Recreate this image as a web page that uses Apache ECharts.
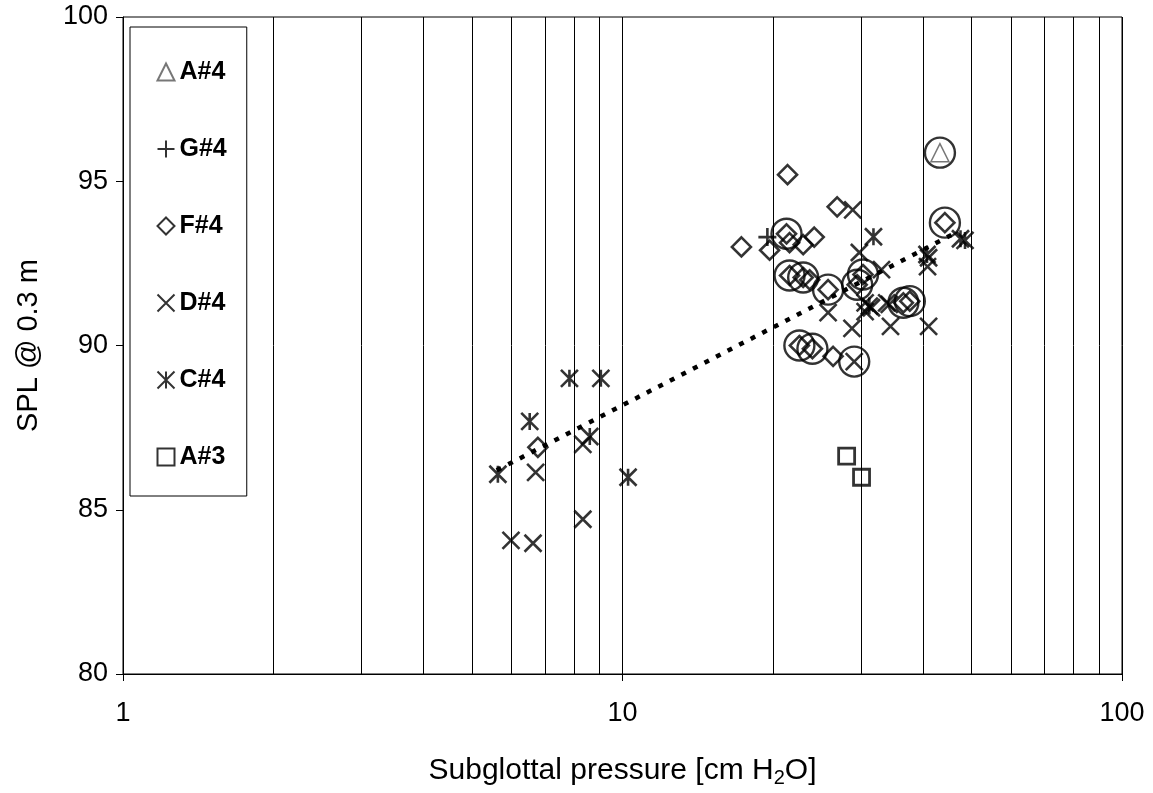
<!DOCTYPE html>
<html>
<head>
<meta charset="utf-8">
<script src="https://cdn.jsdelivr.net/npm/echarts@6/dist/echarts.min.js"></script>
<style>html,body{margin:0;padding:0;background:#fff;overflow:hidden;}#c{width:1153px;height:793px;}</style>
</head>
<body>
<div id="c"></div>
<script>
// ---- data (x: subglottal pressure cm H2O, y: SPL dB) ----
const seriesNames = ['A#4', 'G#4', 'F#4', 'D#4', 'C#4', 'A#3'];
const dataA4 = [[43.2, 95.87]];
const dataG4 = [[19.5, 93.3]];
const dataF4 = [
  [17.3, 93.0], [19.7, 92.9], [21.4, 95.2], [21.3, 93.4], [21.6, 93.13],
  [23.0, 93.07], [24.2, 93.3], [26.9, 94.22], [21.6, 92.13], [23.0, 92.07],
  [23.7, 92.0], [25.8, 91.7], [30.3, 92.16], [29.5, 91.85], [36.5, 91.3],
  [37.6, 91.35], [22.6, 90.0], [24.0, 89.9], [26.4, 89.67], [44.2, 93.74],
  [6.77, 86.9]
];
const dataD4 = [
  [28.9, 94.13], [29.8, 92.83], [33.0, 92.31], [25.8, 91.0], [30.6, 91.3],
  [30.6, 91.03], [34.2, 91.25], [28.8, 90.52], [34.4, 90.58], [41.0, 90.58],
  [41.0, 92.67], [40.8, 92.4], [29.1, 89.51], [5.98, 84.07], [6.62, 83.98],
  [8.33, 84.71], [6.7, 86.14], [8.33, 86.99], [31.5, 91.15], [33.8, 91.3]
];
const dataC4 = [
  [5.63, 86.08], [6.52, 87.69], [7.83, 89.0], [9.05, 89.0], [8.6, 87.23],
  [10.26, 85.99], [31.8, 93.31], [40.7, 92.77], [47.5, 93.25], [48.5, 93.2],
  [31.2, 91.2]
];
const dataA3 = [[28.1, 86.63], [30.1, 85.99]];
const highlighted = [
  [43.2, 95.87], [44.2, 93.74], [21.3, 93.4], [21.6, 92.13], [23.0, 92.07],
  [25.8, 91.7], [30.3, 92.16], [29.5, 91.85], [36.5, 91.3], [37.6, 91.35],
  [22.6, 90.0], [24.0, 89.9], [29.1, 89.51]
];
const trendLine = [[5.6, 86.2], [47.0, 93.47]];
const minorGridX = [2, 3, 4, 5, 6, 7, 8, 9, 20, 30, 40, 50, 60, 70, 80, 90];
const yTicks = {min: 80, max: 100, interval: 5};
const xRange = {min: 1, max: 100};

const FONT = '"Liberation Sans", Arial, sans-serif';
const plusPath = 'path://M0,5L10,5M5,0L5,10';
const xPath = 'path://M0,0L10,10M10,0L0,10';
const starPath = 'path://M0,0L10,10M10,0L0,10M5,0L5,10';

function openStyle(color, w) {
  return {color: 'none', borderColor: color, borderWidth: w};
}

const chart = echarts.init(document.getElementById('c'), null, {renderer: 'canvas'});
chart.setOption({
  animation: false,
  backgroundColor: '#fff',
  textStyle: {fontFamily: FONT},
  grid: {left: 123, width: 999, top: 17, height: 658, show: true, borderColor: '#000', borderWidth: 1},
  legend: {
    orient: 'vertical',
    left: 130, top: 27,
    padding: [32, 20, 26, 25],
    itemGap: 51,
    itemWidth: 17, itemHeight: 17,
    borderColor: '#000', borderWidth: 1,
    selectedMode: false,
    textStyle: {fontFamily: FONT, fontSize: 25, fontWeight: 'bold', color: '#000', lineHeight: 26},
    data: seriesNames
  },
  xAxis: {
    type: 'log', logBase: 10, min: xRange.min, max: xRange.max,
    name: 'Subglottal pressure [cm H{sub|2}O]',
    nameLocation: 'middle', nameGap: 80,
    nameTextStyle: {fontFamily: FONT, fontSize: 30, color: '#000',
      rich: {sub: {fontFamily: FONT, fontSize: 20, color: '#000', verticalAlign: 'bottom', padding: [14, 0, 0, 0]}}},
    axisLine: {lineStyle: {color: '#000', width: 1}},
    axisTick: {show: true, inside: false, length: 7, lineStyle: {color: '#000'}},
    axisLabel: {fontFamily: FONT, fontSize: 27, color: '#000', margin: 26},
    splitLine: {show: true, lineStyle: {color: '#000', width: 1}},
    minorTick: {show: false}
  },
  yAxis: {
    type: 'value', min: yTicks.min, max: yTicks.max, interval: yTicks.interval,
    name: 'SPL @ 0.3 m',
    nameLocation: 'middle', nameGap: 80, nameRotate: 90,
    nameTextStyle: {fontFamily: FONT, fontSize: 29, color: '#000'},
    axisLine: {show: true, lineStyle: {color: '#000', width: 1}},
    axisTick: {show: true, inside: false, length: 7, lineStyle: {color: '#000'}},
    axisLabel: {fontFamily: FONT, fontSize: 27, color: '#000', margin: 15},
    splitLine: {show: false}
  },
  series: [
    {
      type: 'line', name: 'grid', data: [], silent: true, z: 1,
      markLine: {
        silent: true, symbol: ['none', 'none'], label: {show: false}, animation: false,
        lineStyle: {color: '#000', width: 1, type: 'solid'},
        emphasis: {disabled: true},
        data: minorGridX.map(v => ({xAxis: v}))
      }
    },
    {
      type: 'line', name: 'trend', data: trendLine, symbol: 'none', silent: true, z: 3,
      lineStyle: {color: '#000', width: 4.5, type: [5, 8]}
    },
    {type: 'scatter', name: 'A#4', data: dataA4, symbol: 'triangle', symbolSize: 18,
      itemStyle: openStyle('#555', 1.5), z: 4},
    {type: 'scatter', name: 'G#4', data: dataG4, symbol: plusPath, symbolSize: 18,
      itemStyle: openStyle('#000', 2.6), z: 4},
    {type: 'scatter', name: 'F#4', data: dataF4, symbol: 'diamond', symbolSize: 19,
      itemStyle: openStyle('#000', 2.6), z: 4},
    {type: 'scatter', name: 'D#4', data: dataD4, symbol: xPath, symbolSize: 17,
      itemStyle: openStyle('#000', 2.6), z: 4},
    {type: 'scatter', name: 'C#4', data: dataC4, symbol: starPath, symbolSize: 17,
      itemStyle: openStyle('#000', 2.6), z: 4},
    {type: 'scatter', name: 'A#3', data: dataA3, symbol: 'rect', symbolSize: 16,
      itemStyle: openStyle('#000', 2.8), z: 4},
    {type: 'scatter', name: 'highlight', data: highlighted, symbol: 'circle', symbolSize: 30,
      itemStyle: openStyle('#000', 2.4), z: 5, silent: true}
  ]
});
</script>
</body>
</html>
